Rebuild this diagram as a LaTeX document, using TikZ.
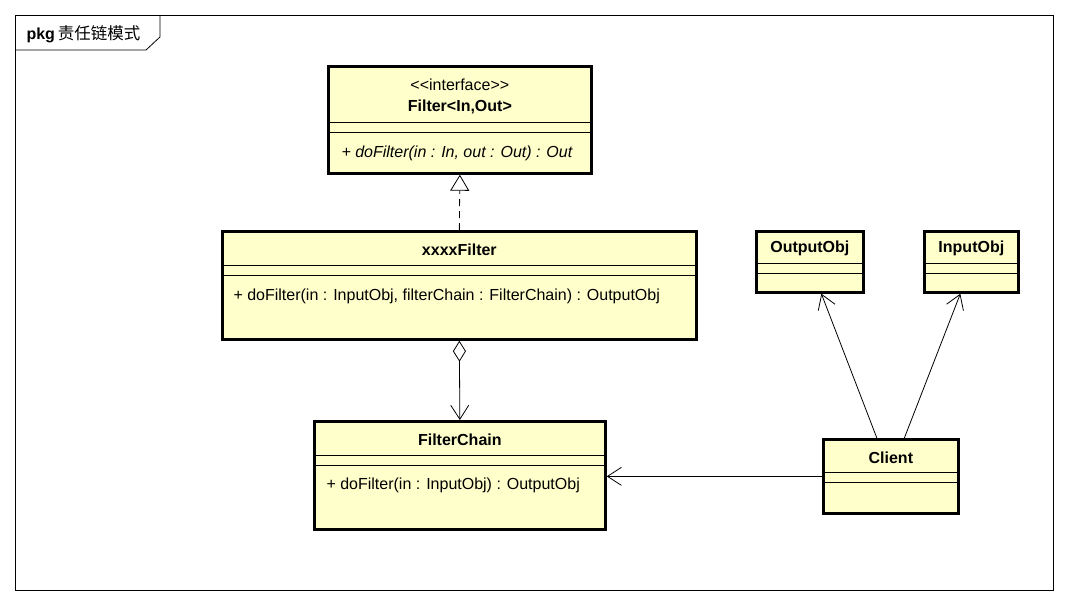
\documentclass[tikz,border=0pt]{standalone}
\usepackage{fontspec}
\setmainfont{Liberation Sans}
\newfontfamily\cjkfont{Noto Sans CJK SC}
\usetikzlibrary{arrows.meta}
\definecolor{clsfill}{RGB}{255,255,204}

\begin{document}
\begin{tikzpicture}[x=1pt,y=-1pt,font=\fontsize{16}{19}\selectfont,
    cls/.style={draw,line width=2.7pt,fill=clsfill,anchor=north west,inner sep=0pt},
    sep/.style={line width=0.7pt},
    link/.style={line width=0.8pt},
    barb/.style={-{Straight Barb[length=14pt,width=18pt,line width=0.8pt]}}]
    \useasboundingbox (0,0) rectangle (1066,603);
    \draw[line width=0.8pt] (15,15) rectangle (1053,590);
    \draw[line width=0.8pt] (15,50) -- (146,50) -- (160,37) -- (160,15);
    \node[anchor=west] (pkglabel) at (23,34) {\textbf{pkg}\kern3pt{\cjkfont\fontsize{16.5}{19}\selectfont 责任链模式}};
    \foreach \n/\x/\y/\w/\h/\s in {
        filter/327/65/263/107/57,
        xxxx/221/230/474/108/35,
        chain/313/420/291/108/35,
        outputobj/755/230/107/61/33,
        inputobj/923/230/94/61/33,
        client/822/438/135/74/34
    } {
        \node[cls,minimum width=\w pt,minimum height=\h pt] (\n) at (\x,\y) {};
        \draw[sep] ([yshift=-\s pt]\n.north west) -- ([yshift=-\s pt]\n.north east);
        \draw[sep] ([yshift=-\s pt-10pt]\n.north west) -- ([yshift=-\s pt-10pt]\n.north east);
    }
    \node (filterkind) at ([yshift=-20pt]filter.north) {<\kern0pt<interface>\kern0pt>};
    \node (filtername) at ([yshift=-42pt]filter.north) {\textbf{Filter<In,Out>}};
    \node[anchor=west] (filterop) at ([xshift=11pt,yshift=-88pt]filter.north west) {\textit{+ doFilter(in : In, out : Out) : Out}};
    \node (xxxxname) at ([yshift=-20pt]xxxx.north) {\textbf{xxxxFilter}};
    \node[anchor=west] (xxxxop) at ([xshift=9pt,yshift=-66pt]xxxx.north west) {+ doFilter(in : InputObj, filterChain : FilterChain) : OutputObj};
    \node (chainname) at ([yshift=-20pt]chain.north) {\textbf{FilterChain}};
    \node[anchor=west] (chainop) at ([xshift=10pt,yshift=-65pt]chain.north west) {+ doFilter(in : InputObj) : OutputObj};
    \node (outputname) at ([yshift=-18pt]outputobj.north) {\textbf{OutputObj}};
    \node (inputname) at ([yshift=-18pt]inputobj.north) {\textbf{InputObj}};
    \node (clientname) at ([yshift=-20pt]client.north) {\textbf{Client}};
    \draw[link,dash pattern=on 7pt off 5pt,-{Triangle[open,length=16pt,width=19pt,line width=0.8pt,fill=white]}] (xxxx.north) -- (filter.south);
    \draw[link,{Diamond[open,length=21pt,width=13pt,line width=0.8pt,fill=white]}-{Straight Barb[length=14pt,width=18pt,line width=0.8pt]}] (xxxx.south) -- (chain.north);
    \draw[link,barb] (client.west) -- (client.west -| chain.east);
    \draw[link,barb] ([xshift=-14pt]client.north) -- ([xshift=11.5pt]outputobj.south);
    \draw[link,barb] ([xshift=13.5pt]client.north) -- ([xshift=-11pt]inputobj.south);
\end{tikzpicture}
\end{document}
